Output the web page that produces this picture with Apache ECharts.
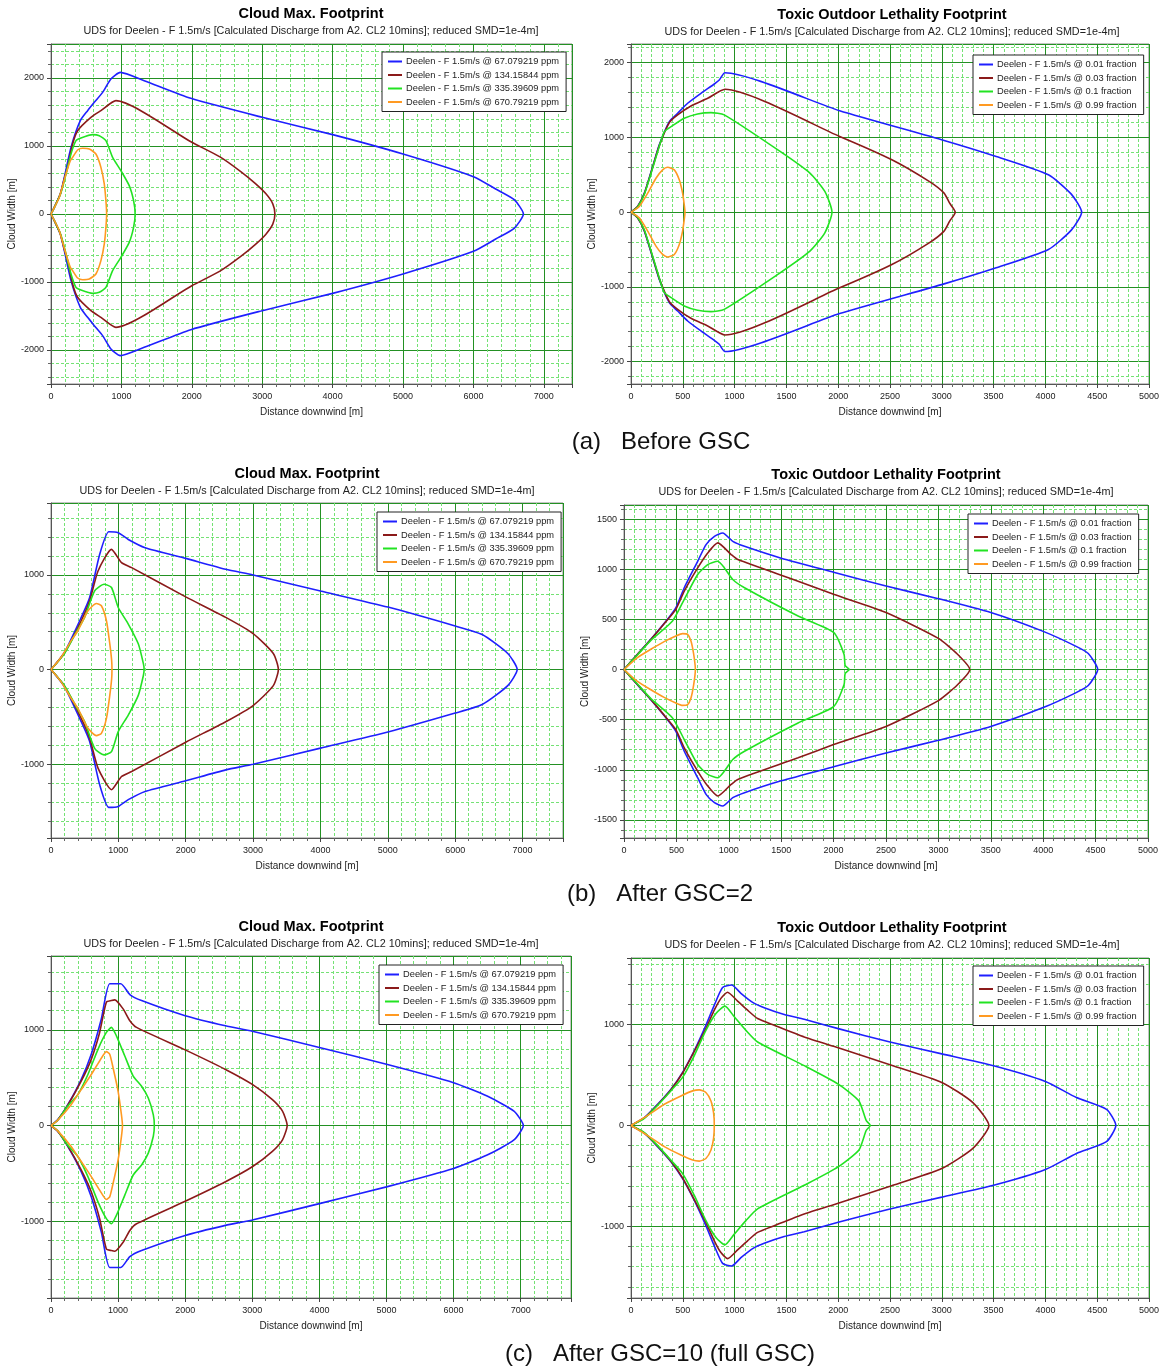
<!DOCTYPE html>
<html>
<head>
<meta charset="utf-8">
<title>Cloud footprints before and after GSC</title>
<script src="https://cdn.jsdelivr.net/npm/echarts@6/dist/echarts.min.js"></script>
<style>
html, body { margin: 0; padding: 0; background: #fff; }
#main { width: 1162px; height: 1371px; }
</style>
</head>
<body>
<div id="main"></div>
<script>
// Upper half of each footprint, [distance, width] from origin to tip.
// The footprints are symmetric, the lower half is the mirror image.
var ppmNames = [
    'Deelen - F 1.5m/s @ 67.079219 ppm',
    'Deelen - F 1.5m/s @ 134.15844 ppm',
    'Deelen - F 1.5m/s @ 335.39609 ppm',
    'Deelen - F 1.5m/s @ 670.79219 ppm'
];
var fracNames = [
    'Deelen - F 1.5m/s @ 0.01 fraction',
    'Deelen - F 1.5m/s @ 0.03 fraction',
    'Deelen - F 1.5m/s @ 0.1 fraction',
    'Deelen - F 1.5m/s @ 0.99 fraction'
];

// (a) before GSC
var aCloud67 = [[0,0],[47,98],[132,294],[189,539],[284,980],[416,1373],[520,1520],[615,1642],[733,1789],[851,1985],[983,2083],[1324,1961],[1986,1701],[3000,1422],[4000,1167],[5000,882],[6000,549],[6316,368],[6579,211],[6710,0]];
var aCloud134 = [[0,0],[47,98],[132,294],[189,520],[236,686],[307,1029],[378,1225],[567,1421],[709,1520],[922,1667],[2000,1054],[2400,840],[2700,620],[2900,450],[3050,300],[3150,150],[3180,0]];
var aCloud335 = [[0,0],[47,95],[132,285],[189,490],[284,882],[355,1078],[426,1118],[591,1167],[686,1152],[780,1078],[875,833],[993,637],[1111,417],[1173,196],[1195,0]];
var aCloud670 = [[0,0],[60,120],[118,245],[213,588],[274,784],[307,833],[378,941],[449,966],[544,956],[638,882],[709,686],[757,441],[780,196],[790,0]];
var aLeth001 = [[0,0],[64,76],[129,254],[209,610],[273,900],[370,1212],[450,1323],[547,1457],[675,1590],[804,1715],[852,1768],[907,1866],[2014,1357],[3022,960],[3525,745],[4029,500],[4250,241],[4350,0]];
var aLeth003 = [[0,0],[64,76],[129,250],[209,600],[273,890],[370,1198],[450,1301],[579,1421],[740,1523],[907,1644],[2014,1013],[2518,701],[2878,411],[3022,254],[3076,120],[3130,0]];
var aLeth01 = [[0,0],[64,70],[129,240],[209,590],[273,880],[322,1078],[402,1158],[514,1256],[643,1314],[772,1332],[900,1301],[1439,812],[1727,522],[1871,277],[1940,0]];
var aLeth099 = [[0,0],[80,76],[161,254],[241,454],[305,566],[354,601],[418,566],[466,432],[498,254],[514,98],[521,0]];

// (b) after GSC=2
var bCloud67 = [[0,0],[200,182],[449,551],[574,761],[723,1218],[858,1456],[998,1446],[1147,1375],[1397,1288],[2000,1175],[2594,1060],[3000,1000],[4000,830],[5000,660],[6000,460],[6400,370],[6780,170],[6920,0]];
var bCloud134 = [[0,0],[200,175],[449,516],[574,726],[698,1042],[898,1270],[1047,1130],[1197,1077],[2000,768],[2594,551],[3000,380],[3300,170],[3375,0]];
var bCloud335 = [[0,0],[200,170],[374,393],[499,551],[648,832],[788,902],[898,867],[998,656],[1147,481],[1297,270],[1372,60],[1382,0]];
var bCloud670 = [[0,0],[150,130],[299,305],[399,410],[549,621],[673,698],[748,674],[823,516],[873,270],[900,100],[905,0]];
var bLeth001 = [[0,0],[128,152],[256,301],[415,500],[495,616],[575,815],[703,1079],[783,1245],[863,1328],[942,1361],[1038,1278],[1150,1228],[1500,1110],[2000,970],[2500,832],[3000,706],[3500,568],[4000,380],[4300,238],[4430,160],[4520,0]];
var bLeth003 = [[0,0],[128,150],[256,298],[415,495],[495,600],[575,781],[703,1013],[799,1162],[895,1262],[1022,1146],[1086,1096],[1661,881],[2000,749],[2500,568],[3000,310],[3180,155],[3300,0]];
var bLeth01 = [[0,0],[128,145],[256,290],[463,483],[575,699],[703,947],[799,1046],[895,1079],[958,1013],[1038,897],[1150,815],[1661,533],[2000,370],[2100,150],[2110,40],[2150,0]];
var bLeth099 = [[0,0],[128,119],[256,202],[383,278],[495,334],[559,358],[607,351],[639,285],[665,152],[681,0]];

// (c) after GSC=10
var cCloud67 = [[0,0],[100,60],[250,218],[450,481],[600,744],[750,1112],[875,1481],[1040,1481],[1175,1368],[1350,1305],[2000,1147],[2600,1042],[3000,985],[4000,815],[5000,640],[6000,448],[6500,308],[6900,150],[7040,0]];
var cCloud134 = [[0,0],[100,58],[250,212],[450,463],[600,691],[725,972],[825,1288],[900,1305],[950,1312],[1075,1218],[1175,1095],[1275,1025],[2000,790],[2600,586],[3000,430],[3300,270],[3450,150],[3520,0]];
var cCloud335 = [[0,0],[100,55],[250,205],[400,323],[550,533],[700,796],[825,972],[900,1025],[975,937],[1100,726],[1225,516],[1350,411],[1450,288],[1525,112],[1540,0]];
var cCloud670 = [[0,0],[100,55],[300,218],[450,375],[600,533],[725,674],[825,772],[875,744],[925,604],[1000,358],[1050,112],[1065,0]];
var cLeth001 = [[0,0],[129,77],[257,210],[386,360],[498,527],[611,743],[723,993],[804,1193],[884,1367],[971,1393],[1061,1310],[1174,1220],[1286,1167],[1479,1100],[1672,1053],[2000,960],[2500,827],[3000,710],[3500,593],[4000,437],[4300,277],[4590,160],[4680,0]];
var cLeth003 = [[0,0],[129,75],[257,205],[386,355],[498,520],[611,735],[723,960],[804,1143],[868,1260],[932,1320],[1029,1233],[1125,1143],[1222,1060],[1383,993],[1672,877],[2000,770],[2500,603],[3000,427],[3300,227],[3455,0]];
var cLeth01 = [[0,0],[129,70],[257,200],[386,345],[498,477],[611,693],[723,943],[820,1110],[907,1183],[997,1077],[1109,943],[1222,827],[1672,593],[2000,410],[2200,243],[2270,50],[2310,0]];
var cLeth099 = [[0,0],[161,100],[322,210],[482,293],[595,343],[659,353],[723,327],[772,243],[797,127],[804,0]];

var colors = ['#1f1fff', '#8b1a1a', '#22e322', '#ff9a22'];

var subtitle = 'UDS for Deelen - F 1.5m/s [Calculated Discharge from A2. CL2 10mins]; reduced SMD=1e-4m]';
var captions = ['(a)   Before GSC', '(b)   After GSC=2', '(c)   After GSC=10 (full GSC)'];

// layout of the six panels
var panels = [
    { title: 'Cloud Max. Footprint', cx: 311, ty: 6, grid: { left: 51, top: 44, width: 521, height: 340 },
      xMax: 7400, xStep: 1000, yMin: -2500, yMax: 2500, yStep: 1000, names: ppmNames,
      lines: [aCloud67, aCloud134, aCloud335, aCloud670], legend: { left: 382, top: 52 } },
    { title: 'Toxic Outdoor Lethality Footprint', cx: 892, ty: 7, grid: { left: 631, top: 44, width: 520, height: 340 },
      xMax: 5000, xStep: 500, yMin: -2300, yMax: 2250, yStep: 1000, names: fracNames,
      lines: [aLeth001, aLeth003, aLeth01, aLeth099], legend: { left: 973, top: 55 } },
    { title: 'Cloud Max. Footprint', cx: 307, ty: 466, grid: { left: 51, top: 503, width: 512, height: 335 },
      xMax: 7600, xStep: 1000, yMin: -1780, yMax: 1760, yStep: 1000, names: ppmNames,
      lines: [bCloud67, bCloud134, bCloud335, bCloud670], legend: { left: 377, top: 512 } },
    { title: 'Toxic Outdoor Lethality Footprint', cx: 886, ty: 467, grid: { left: 624, top: 505, width: 524, height: 333 },
      xMax: 5000, xStep: 500, yMin: -1680, yMax: 1640, yStep: 500, names: fracNames,
      lines: [bLeth001, bLeth003, bLeth01, bLeth099], legend: { left: 968, top: 514 } },
    { title: 'Cloud Max. Footprint', cx: 311, ty: 919, grid: { left: 51, top: 956, width: 520, height: 342 },
      xMax: 7750, xStep: 1000, yMin: -1800, yMax: 1770, yStep: 1000, names: ppmNames,
      lines: [cCloud67, cCloud134, cCloud335, cCloud670], legend: { left: 379, top: 965 } },
    { title: 'Toxic Outdoor Lethality Footprint', cx: 892, ty: 920, grid: { left: 631, top: 958, width: 520, height: 340 },
      xMax: 5000, xStep: 500, yMin: -1710, yMax: 1660, yStep: 1000, names: fracNames,
      lines: [cLeth001, cLeth003, cLeth01, cLeth099], legend: { left: 973, top: 966 } }
];

// close the outline: upper half out to the tip, mirrored half back to origin
function closeLoop(half) {
    var lower = half.slice(0, -1).reverse().map(function (p) { return [p[0], -p[1]]; });
    return half.concat(lower);
}

function plain(v) { return String(v); }

var axisCommon = {
    axisLine: { show: true, onZero: false, lineStyle: { color: '#555', width: 1 } },
    axisTick: { show: true, length: 4, lineStyle: { color: '#444' } },
    minorTick: { show: true, splitNumber: 5, length: 3, lineStyle: { color: '#666' } },
    splitLine: { show: true, lineStyle: { color: '#239023', width: 1 } },
    minorSplitLine: { show: true, lineStyle: { color: '#74e274', width: 1, opacity: 1, type: [3, 2] } }
};

var grids = [], xAxes = [], yAxes = [], series = [], legends = [], titles = [];

panels.forEach(function (p, i) {
    grids.push(Object.assign({ show: true, borderColor: '#8a8a8a', borderWidth: 1, backgroundColor: '#fff' }, p.grid));
    xAxes.push(Object.assign({}, axisCommon, {
        gridIndex: i, type: 'value', min: 0, max: p.xMax,
        minInterval: p.xStep, maxInterval: p.xStep,
        name: 'Distance downwind [m]', nameLocation: 'middle', nameGap: 23,
        nameTextStyle: { fontSize: 10, color: '#222' },
        axisLabel: { fontSize: 9, color: '#222', margin: 8, formatter: plain,
            showMinLabel: true, showMaxLabel: p.xMax % p.xStep === 0 }
    }));
    yAxes.push(Object.assign({}, axisCommon, {
        gridIndex: i, type: 'value', min: p.yMin, max: p.yMax,
        minInterval: p.yStep, maxInterval: p.yStep,
        name: 'Cloud Width [m]', nameLocation: 'middle', nameGap: 34,
        nameTextStyle: { fontSize: 10, color: '#222' },
        axisLabel: { fontSize: 9, color: '#222', margin: 7, formatter: plain,
            showMinLabel: false, showMaxLabel: false }
    }));
    p.lines.forEach(function (half, j) {
        series.push({
            type: 'line', name: p.names[j], xAxisIndex: i, yAxisIndex: i,
            data: closeLoop(half), symbol: 'none', showSymbol: false, silent: true,
            smooth: 0.2,
            lineStyle: { color: colors[j], width: 1.6 }, itemStyle: { color: colors[j] }
        });
    });
    legends.push({
        left: p.legend.left, top: p.legend.top, orient: 'vertical', data: p.names,
        icon: 'rect', itemWidth: 14, itemHeight: 2, itemGap: 4.5, selectedMode: false,
        backgroundColor: '#fff', borderColor: '#222', borderWidth: 1, borderRadius: 0,
        padding: [5, 7, 5, 6],
        textStyle: { fontSize: 9.3, color: '#222', padding: [0, 0, 0, -1] }
    });
    titles.push({
        text: p.title, subtext: subtitle, left: p.cx, top: p.ty, textAlign: 'center',
        padding: 0, itemGap: 5,
        textStyle: { fontSize: 14.5, fontWeight: 'bold', color: '#000' },
        subtextStyle: { fontSize: 10.8, color: '#222' }
    });
});

[[661, 430], [660, 882], [660, 1342]].forEach(function (c, k) {
    titles.push({
        text: captions[k], left: c[0], top: c[1], textAlign: 'center', padding: 0,
        textStyle: { fontSize: 24, fontWeight: 'normal', color: '#111' }
    });
});

var chart = echarts.init(document.getElementById('main'), null, { renderer: 'canvas' });
chart.setOption({
    animation: false,
    backgroundColor: '#fff',
    textStyle: { fontFamily: 'Liberation Sans, Arial, sans-serif' },
    title: titles,
    legend: legends,
    grid: grids,
    xAxis: xAxes,
    yAxis: yAxes,
    series: series
});
window.addEventListener('resize', chart.resize);
</script>
</body>
</html>
